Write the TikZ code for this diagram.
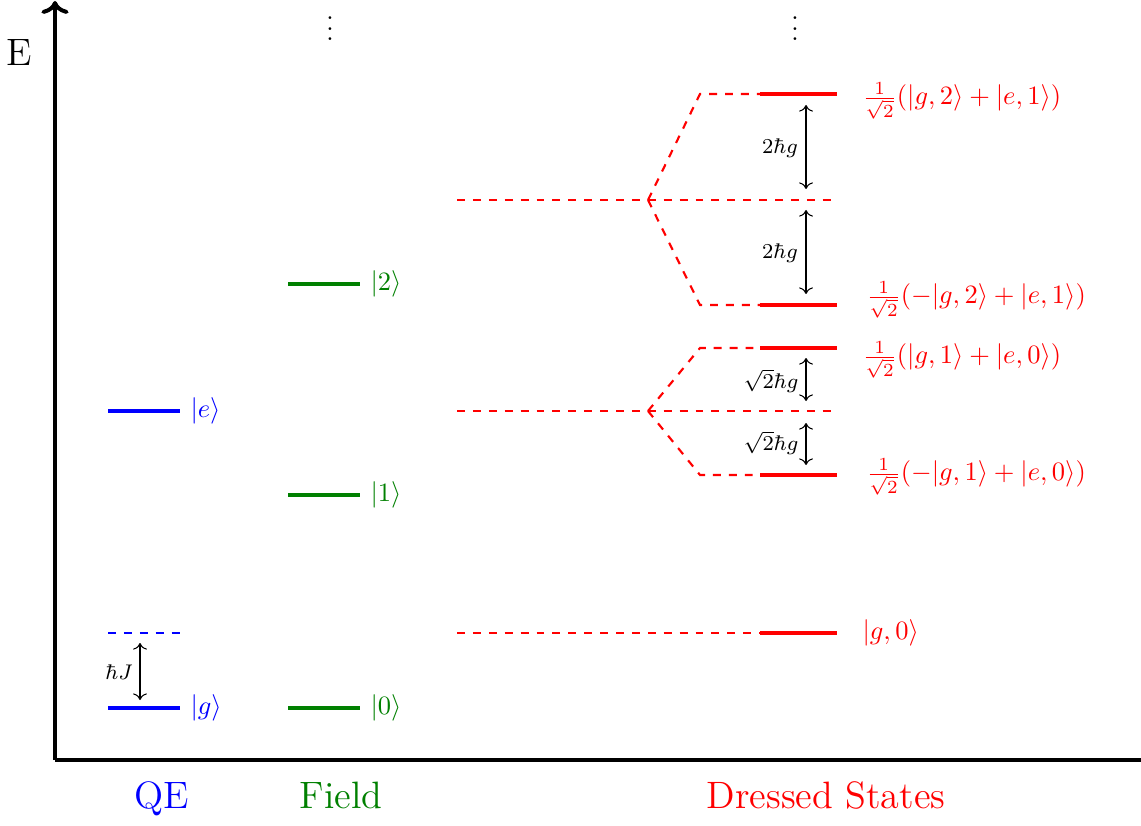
\documentclass[tikz,border=0pt]{standalone}
\usepackage{amsmath}
\usetikzlibrary{arrows.meta}
\definecolor{fgreen}{rgb}{0,0.5,0}
\begin{document}
\begin{tikzpicture}[x=0.37736pt,y=-0.37736pt,
  axis/.style={line width=1.5pt},
  lvl/.style={line width=1.15pt},
  dlvl/.style={line width=0.8pt,dashed},
  gap/.style={<->,thin},
  ket/.style={anchor=west,inner sep=0pt},
  dket/.style={anchor=west,inner sep=0pt},
  small/.style={font=\footnotesize,inner sep=0pt},
  bottom/.style={anchor=base,font=\Large,inner sep=0pt}]
\useasboundingbox (0,0) rectangle (1141,825);
% axes
\coordinate (o) at (55,760);
\coordinate (ytop) at (55,1);
\coordinate (xend) at (1141,760);
\draw[axis,->] (o) -- (ytop);
\draw[axis] (o) -- (xend);
\node[anchor=base,font=\Large,inner sep=0pt] (E) at (19,66) {E};
\node[inner sep=0pt] (dots1) at (330,21) {$\vdots$};
\node[inner sep=0pt] (dots2) at (795,21) {$\vdots$};
% QE
\coordinate (gL) at (108,708); \coordinate (gR) at (180,708);
\coordinate (jL) at (108,633); \coordinate (jR) at (180,633);
\coordinate (eL) at (108,411); \coordinate (eR) at (180,411);
\draw[lvl,blue] (gL) -- (gR);
\draw[dlvl,blue] (jL) -- (jR);
\draw[lvl,blue] (eL) -- (eR);
\node[ket,blue] (gk) at (190,708) {$|g\rangle$};
\node[ket,blue] (ek) at (190,411) {$|e\rangle$};
\coordinate (hJa) at (140,643); \coordinate (hJb) at (140,700);
\draw[gap] (hJa) -- (hJb);
\node[small] (hJ) at (119,672) {$\hbar J$};
% Field
\coordinate (f0L) at (288,708); \coordinate (f0R) at (360,708);
\coordinate (f1L) at (288,495); \coordinate (f1R) at (360,495);
\coordinate (f2L) at (288,284); \coordinate (f2R) at (360,284);
\draw[lvl,fgreen] (f0L) -- (f0R);
\draw[lvl,fgreen] (f1L) -- (f1R);
\draw[lvl,fgreen] (f2L) -- (f2R);
\node[ket,fgreen] (k0) at (370,708) {$|0\rangle$};
\node[ket,fgreen] (k1) at (370,495) {$|1\rangle$};
\node[ket,fgreen] (k2) at (370,284) {$|2\rangle$};
% Dressed states
\coordinate (d0a) at (457,633); \coordinate (d0b) at (760,633); \coordinate (d0c) at (837,633);
\draw[dlvl,red] (d0a) -- (d0b);
\draw[lvl,red] (d0b) -- (d0c);
\node[dket,red] (kd0) at (862,633) {$|g,0\rangle$};
% n=1 manifold
\coordinate (m1a) at (457,411); \coordinate (m1s) at (648,411); \coordinate (m1e) at (833,411);
\coordinate (p1k) at (700,348); \coordinate (p1a) at (760,348); \coordinate (p1b) at (837,348);
\coordinate (q1k) at (700,475); \coordinate (q1a) at (760,475); \coordinate (q1b) at (837,475);
\draw[dlvl,red] (m1a) -- (m1e);
\draw[dlvl,red] (m1s) -- (p1k) -- (p1a);
\draw[dlvl,red] (m1s) -- (q1k) -- (q1a);
\draw[lvl,red] (p1a) -- (p1b);
\draw[lvl,red] (q1a) -- (q1b);
\node[dket,red] (kp1) at (862,360) {$\frac{1}{\sqrt{2}}(|g,1\rangle+|e,0\rangle)$};
\node[dket,red] (kq1) at (866,477) {$\frac{1}{\sqrt{2}}(-|g,1\rangle+|e,0\rangle)$};
\coordinate (a3a) at (806,358); \coordinate (a3b) at (806,401);
\coordinate (a4a) at (806,423); \coordinate (a4b) at (806,465);
\draw[gap] (a3a) -- (a3b);
\draw[gap] (a4a) -- (a4b);
\node[small] (l3) at (771,381) {$\sqrt{2}\hbar g$};
\node[small] (l4) at (771,443) {$\sqrt{2}\hbar g$};
% n=2 manifold
\coordinate (m2a) at (457,200); \coordinate (m2s) at (648,200); \coordinate (m2e) at (833,200);
\coordinate (p2k) at (700,94); \coordinate (p2a) at (760,94); \coordinate (p2b) at (837,94);
\coordinate (q2k) at (700,305); \coordinate (q2a) at (760,305); \coordinate (q2b) at (837,305);
\draw[dlvl,red] (m2a) -- (m2e);
\draw[dlvl,red] (m2s) -- (p2k) -- (p2a);
\draw[dlvl,red] (m2s) -- (q2k) -- (q2a);
\draw[lvl,red] (p2a) -- (p2b);
\draw[lvl,red] (q2a) -- (q2b);
\node[dket,red] (kp2) at (862,101) {$\frac{1}{\sqrt{2}}(|g,2\rangle+|e,1\rangle)$};
\node[dket,red] (kq2) at (866,300) {$\frac{1}{\sqrt{2}}(-|g,2\rangle+|e,1\rangle)$};
\coordinate (a1a) at (806,105); \coordinate (a1b) at (806,189);
\coordinate (a2a) at (806,210); \coordinate (a2b) at (806,294);
\draw[gap] (a1a) -- (a1b);
\draw[gap] (a2a) -- (a2b);
\node[small] (l1) at (780,148) {$2\hbar g$};
\node[small] (l2) at (780,253) {$2\hbar g$};
% bottom labels
\node[bottom,blue] (qe) at (162,808) {QE};
\node[bottom,fgreen] (fld) at (341,808) {Field};
\node[bottom,red] (ds) at (826,808) {Dressed States};
\end{tikzpicture}
\end{document}
